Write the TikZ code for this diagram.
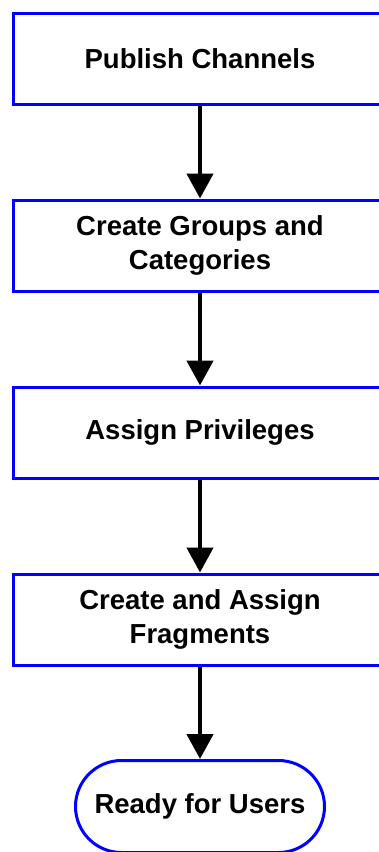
\documentclass[tikz,border=0pt]{standalone}
\usepackage{fontspec}
\setmainfont{Liberation Sans}
\usetikzlibrary{arrows.meta}
\definecolor{boxblue}{RGB}{0,0,255}
\begin{document}
\begin{tikzpicture}[x=1pt,y=-1pt,
  stepbox/.style={draw=boxblue, line width=3pt, fill=white,
    minimum width=373pt, minimum height=91pt, inner sep=0pt,
    align=center, font=\fontsize{27.5}{33.5}\selectfont\bfseries},
  endbox/.style={stepbox, minimum width=249pt, minimum height=92pt, rounded corners=46pt},
  flow/.style={draw=black, line width=4.5pt,
    -{Triangle[width=26pt,length=25pt]}}]
  \useasboundingbox (0,0) rectangle (378,852);
  \node[stepbox] (b1) at (200,58.5)  {Publish Channels};
  \node[stepbox] (b2) at (200,245.5) {Create Groups and\\Categories};
  \node[stepbox] (b3) at (200,432.5) {Assign Privileges};
  \node[stepbox] (b4) at (200,619.5) {Create and Assign\\Fragments};
  \node[endbox]  (b5) at (200,806.5) {Ready for Users};
  \draw[flow] (b1.south) -- (b2.north);
  \draw[flow] (b2.south) -- (b3.north);
  \draw[flow] (b3.south) -- (b4.north);
  \draw[flow] (b4.south) -- (b5.north);
\end{tikzpicture}
\end{document}
